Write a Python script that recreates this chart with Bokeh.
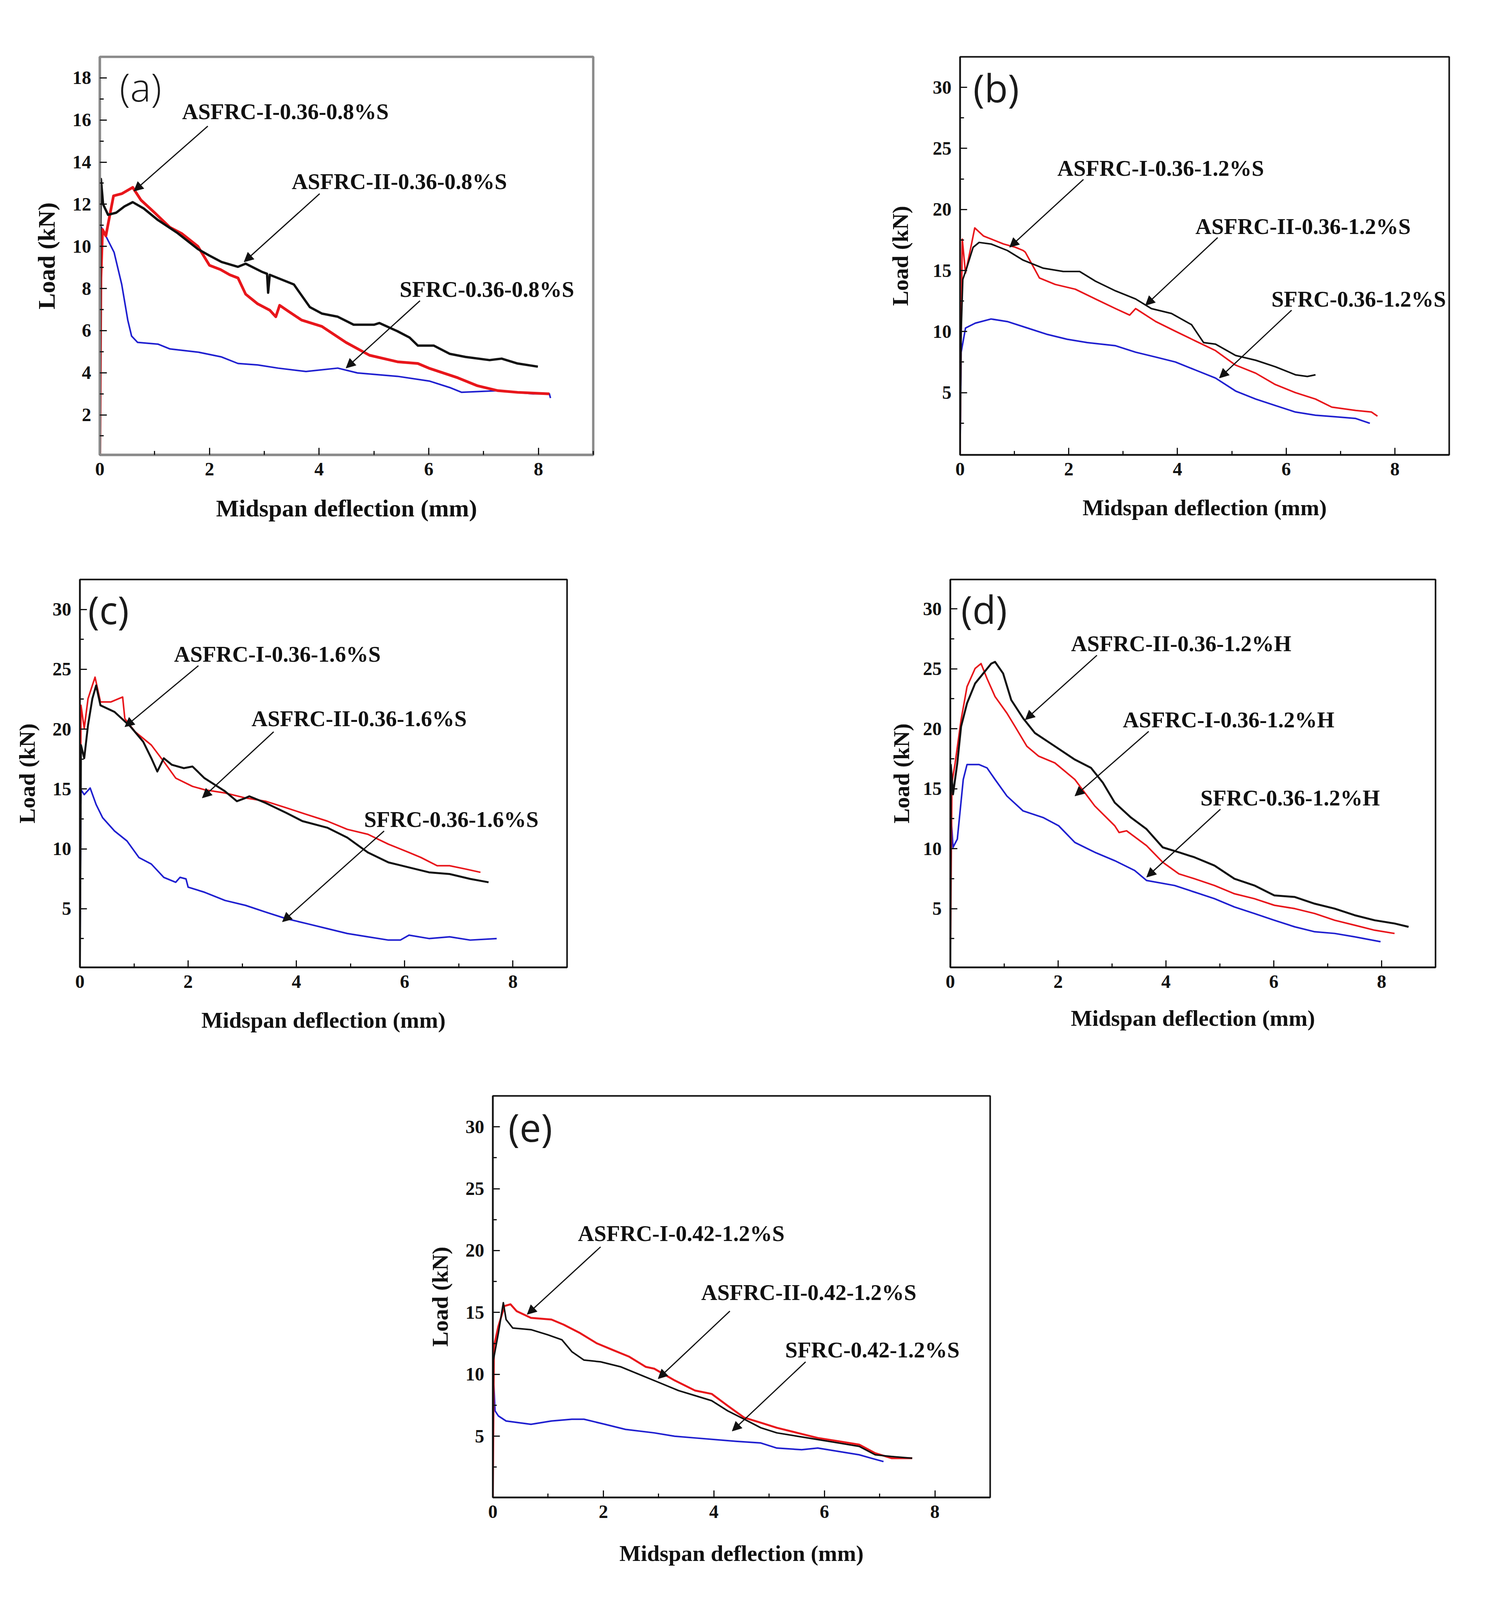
from bokeh.plotting import figure
from bokeh.layouts import column, row
from bokeh.models import FixedTicker, Arrow, NormalHead, Range1d, Label
from bokeh.embed import file_html
from bokeh.resources import INLINE

# ---------------- data (Midspan deflection mm, Load kN) ----------------
# (a) 0.36 - 0.8%S
A_I_X = [0, 0.02, 0.05, 0.11, 0.25, 0.4, 0.6, 0.75, 1.0, 1.28, 1.5, 1.79, 2.0, 2.2, 2.37, 2.52, 2.66, 2.88, 3.1, 3.21, 3.28, 3.45, 3.68, 4.05, 4.49, 4.92, 5.43, 5.8, 6.02, 6.53, 6.89, 7.26, 7.62, 8.2]
A_I_Y = [0, 8.5, 10.8, 10.5, 12.4, 12.5, 12.8, 12.2, 11.6, 10.9, 10.6, 10.0, 9.1, 8.9, 8.65, 8.5, 7.73, 7.27, 6.97, 6.66, 7.2, 6.9, 6.5, 6.2, 5.44, 4.83, 4.52, 4.44, 4.2, 3.76, 3.38, 3.15, 3.07, 3.0]
A_II_X = [0, 0.01, 0.02, 0.06, 0.15, 0.3, 0.45, 0.6, 0.8, 1.06, 1.42, 1.79, 2.0, 2.22, 2.52, 2.66, 2.95, 3.05, 3.07, 3.1, 3.54, 3.83, 4.05, 4.34, 4.63, 5.0, 5.1, 5.43, 5.65, 5.8, 6.09, 6.38, 6.67, 7.11, 7.33, 7.62, 7.99]
A_II_Y = [0, 10.5, 13.2, 12.0, 11.5, 11.6, 11.9, 12.1, 11.8, 11.25, 10.63, 9.87, 9.56, 9.26, 9.03, 9.18, 8.8, 8.7, 7.8, 8.65, 8.19, 7.12, 6.81, 6.66, 6.28, 6.28, 6.36, 5.97, 5.67, 5.29, 5.29, 4.9, 4.75, 4.6, 4.67, 4.44, 4.29]
A_S_X = [0, 0.01, 0.03, 0.26, 0.4, 0.51, 0.58, 0.69, 1.06, 1.28, 1.79, 2.22, 2.52, 2.88, 3.25, 3.76, 4.34, 4.7, 5.43, 6.02, 6.38, 6.6, 7.26, 7.9, 8.2, 8.22]
A_S_Y = [0, 8.0, 10.9, 9.72, 8.19, 6.5, 5.74, 5.44, 5.36, 5.13, 4.98, 4.75, 4.44, 4.37, 4.22, 4.06, 4.22, 3.99, 3.83, 3.6, 3.3, 3.07, 3.15, 3.0, 3.0, 2.8]

# (b) 0.36 - 1.2%S
B_I_X = [0, 0.02, 0.04, 0.1, 0.18, 0.27, 0.43, 0.8, 1.02, 1.16, 1.2, 1.38, 1.46, 1.75, 2.12, 2.49, 2.86, 3.12, 3.23, 3.6, 3.96, 4.33, 4.7, 5.07, 5.44, 5.8, 6.17, 6.54, 6.84, 7.28, 7.57, 7.68]
B_I_Y = [0, 10, 17.57, 14.79, 16.5, 18.49, 17.83, 17.17, 16.9, 16.64, 16.5, 15.05, 14.39, 13.86, 13.47, 12.67, 11.88, 11.35, 11.88, 10.82, 10.03, 9.23, 8.44, 7.25, 6.59, 5.66, 5.0, 4.47, 3.81, 3.54, 3.41, 3.07]
B_II_X = [0, 0.02, 0.05, 0.13, 0.24, 0.35, 0.57, 0.87, 1.16, 1.53, 1.9, 2.2, 2.49, 2.86, 3.23, 3.52, 3.89, 4.26, 4.48, 4.7, 5.07, 5.44, 5.8, 6.17, 6.39, 6.54]
B_II_Y = [0, 10, 14.26, 15.32, 16.9, 17.3, 17.17, 16.64, 15.85, 15.19, 14.92, 14.92, 14.13, 13.33, 12.67, 11.88, 11.48, 10.56, 9.1, 8.97, 8.04, 7.65, 7.12, 6.46, 6.32, 6.46]
B_S_X = [0, 0.02, 0.1, 0.28, 0.57, 0.87, 1.24, 1.61, 1.97, 2.34, 2.86, 3.23, 3.6, 3.96, 4.33, 4.7, 5.07, 5.44, 5.8, 6.17, 6.54, 6.91, 7.28, 7.54]
B_S_Y = [0, 8.31, 10.29, 10.69, 11.03, 10.82, 10.29, 9.76, 9.37, 9.1, 8.84, 8.31, 7.91, 7.51, 6.85, 6.19, 5.13, 4.47, 3.94, 3.41, 3.15, 3.02, 2.88, 2.49]

# (c) 0.36 - 1.6%S
C_I_X = [0, 0.02, 0.08, 0.15, 0.23, 0.28, 0.38, 0.57, 0.79, 0.83, 1.02, 1.32, 1.55, 1.77, 2.08, 2.3, 2.68, 3.06, 3.43, 3.81, 4.19, 4.57, 4.94, 5.32, 5.7, 6.08, 6.3, 6.6, 6.83, 7.13, 7.4]
C_I_Y = [0, 21.99, 20.06, 22.54, 23.65, 24.34, 22.27, 22.27, 22.68, 20.88, 19.78, 18.67, 17.29, 15.91, 15.22, 14.94, 14.67, 14.25, 13.98, 13.43, 12.87, 12.32, 11.63, 11.22, 10.39, 9.7, 9.28, 8.59, 8.59, 8.31, 8.04]
C_II_X = [0, 0.02, 0.08, 0.15, 0.23, 0.3, 0.38, 0.64, 0.94, 1.17, 1.32, 1.43, 1.55, 1.7, 1.92, 2.08, 2.3, 2.68, 2.9, 3.06, 3.13, 3.43, 3.81, 4.11, 4.57, 4.94, 5.32, 5.7, 6.08, 6.45, 6.83, 7.21, 7.55]
C_II_Y = [0, 18.67, 17.57, 20.33, 22.54, 23.65, 21.99, 21.44, 20.19, 18.95, 17.57, 16.46, 17.57, 17.02, 16.74, 16.88, 15.91, 14.81, 13.98, 14.25, 14.39, 13.84, 13.01, 12.32, 11.77, 10.94, 9.7, 8.87, 8.45, 8.04, 7.9, 7.49, 7.21]
C_S_X = [0, 0.02, 0.08, 0.19, 0.3, 0.42, 0.64, 0.87, 1.09, 1.32, 1.55, 1.77, 1.85, 1.96, 2.0, 2.3, 2.68, 3.06, 3.43, 3.81, 4.19, 4.57, 4.94, 5.32, 5.7, 5.92, 6.08, 6.45, 6.83, 7.21, 7.7]
C_S_Y = [0, 14.94, 14.53, 15.08, 13.7, 12.6, 11.49, 10.66, 9.28, 8.73, 7.62, 7.21, 7.62, 7.49, 6.8, 6.38, 5.69, 5.28, 4.72, 4.17, 3.76, 3.34, 2.93, 2.65, 2.38, 2.38, 2.79, 2.51, 2.65, 2.38, 2.51]

# (d) 0.36 - 1.2%H
D_II_X = [0, 0.01, 0.05, 0.13, 0.2, 0.31, 0.46, 0.61, 0.76, 0.83, 0.98, 1.13, 1.35, 1.57, 1.94, 2.31, 2.61, 2.83, 3.05, 3.35, 3.64, 3.94, 4.24, 4.53, 4.9, 5.27, 5.64, 6.01, 6.39, 6.76, 7.13, 7.5, 7.87, 8.24, 8.5]
D_II_Y = [0, 17.0, 14.53, 17.15, 20.19, 22.13, 23.78, 24.61, 25.44, 25.58, 24.61, 22.4, 20.88, 19.64, 18.54, 17.43, 16.74, 15.5, 13.84, 12.6, 11.63, 10.11, 9.7, 9.28, 8.59, 7.49, 6.93, 6.1, 5.97, 5.41, 5.0, 4.45, 4.03, 3.76, 3.48]
D_I_X = [0, 0.03, 0.09, 0.2, 0.31, 0.46, 0.57, 0.68, 0.83, 1.05, 1.2, 1.42, 1.64, 1.94, 2.31, 2.68, 3.05, 3.13, 3.27, 3.64, 3.94, 4.24, 4.53, 4.9, 5.27, 5.64, 6.01, 6.39, 6.76, 7.13, 7.5, 7.87, 8.24]
D_I_Y = [0, 15.5, 17.15, 20.75, 23.51, 25.03, 25.44, 24.2, 22.68, 21.3, 20.19, 18.54, 17.71, 17.15, 15.77, 13.56, 11.91, 11.35, 11.49, 10.25, 8.87, 7.9, 7.49, 6.93, 6.24, 5.83, 5.28, 5.0, 4.59, 4.03, 3.62, 3.2, 2.93]
D_S_X = [0, 0.01, 0.05, 0.13, 0.24, 0.31, 0.53, 0.68, 0.83, 1.05, 1.35, 1.72, 2.01, 2.31, 2.68, 3.05, 3.42, 3.64, 4.16, 4.53, 4.9, 5.27, 5.64, 6.01, 6.39, 6.76, 7.13, 7.5, 7.98]
D_S_Y = [0, 13.0, 10.11, 10.8, 15.77, 17.02, 17.02, 16.74, 15.77, 14.39, 13.15, 12.6, 11.91, 10.52, 9.7, 9.0, 8.18, 7.35, 6.93, 6.38, 5.83, 5.14, 4.59, 4.03, 3.48, 3.07, 2.93, 2.65, 2.24]

# (e) 0.42 - 1.2%S
E_I_X = [0, 0.02, 0.1, 0.21, 0.32, 0.43, 0.69, 1.06, 1.28, 1.58, 1.88, 2.17, 2.47, 2.77, 2.92, 3.29, 3.66, 3.96, 4.25, 4.55, 4.85, 5.14, 5.51, 5.88, 6.26, 6.63, 6.92, 7.22, 7.59]
E_I_Y = [0, 12.24, 13.88, 15.52, 15.66, 15.11, 14.56, 14.43, 14.02, 13.33, 12.51, 11.97, 11.42, 10.6, 10.46, 9.51, 8.69, 8.42, 7.46, 6.5, 6.09, 5.68, 5.27, 4.86, 4.59, 4.32, 3.63, 3.22, 3.22]
E_II_X = [0, 0.01, 0.1, 0.19, 0.24, 0.36, 0.69, 0.99, 1.25, 1.43, 1.65, 1.95, 2.32, 2.69, 2.99, 3.36, 3.66, 3.96, 4.25, 4.55, 4.85, 5.14, 5.51, 5.88, 6.26, 6.63, 6.92, 7.22, 7.59]
E_II_Y = [0, 11.15, 13.33, 15.79, 14.43, 13.74, 13.61, 13.2, 12.79, 11.83, 11.15, 11.01, 10.6, 9.92, 9.37, 8.69, 8.28, 7.87, 7.05, 6.37, 5.68, 5.27, 5.0, 4.73, 4.45, 4.18, 3.5, 3.36, 3.22]
E_S_X = [0, 0.01, 0.04, 0.1, 0.24, 0.69, 1.06, 1.43, 1.65, 2.03, 2.4, 2.92, 3.29, 3.66, 4.4, 4.85, 5.14, 5.59, 5.88, 6.26, 6.63, 6.85, 7.07]
E_S_Y = [0, 9.92, 7.05, 6.64, 6.23, 5.96, 6.23, 6.37, 6.37, 5.96, 5.55, 5.27, 5.0, 4.86, 4.59, 4.45, 4.04, 3.91, 4.04, 3.77, 3.5, 3.22, 2.95]

X_TICKS = [0, 2, 4, 6, 8]
X_MINOR = [1, 3, 5, 7, 9]
Y_TICKS_A = [2, 4, 6, 8, 10, 12, 14, 16, 18]
Y_MINOR_A = [1, 3, 5, 7, 9, 11, 13, 15, 17]
Y_TICKS = [5, 10, 15, 20, 25, 30]
Y_MINOR = [2.5, 7.5, 12.5, 17.5, 22.5, 27.5, 32.5]

X_LABEL = "Midspan deflection (mm)"
Y_LABEL = "Load (kN)"

RED = "#e8161b"
BLACK = "#111111"
BLUE = "#1f1fd0"

# annotations: (text, x_left, y_mid, arrow_x0, arrow_y0, arrow_x1, arrow_y1)
ANN_A = [("ASFRC-I-0.36-0.8%S", 1.50, 16.41, 1.97, 15.71, 0.62, 12.62),
         ("ASFRC-II-0.36-0.8%S", 3.50, 13.08, 4.01, 12.5, 2.63, 9.26),
         ("SFRC-0.36-0.8%S", 5.47, 7.96, 5.84, 7.42, 4.49, 4.22)]
ANN_B = [("ASFRC-I-0.36-1.2%S", 1.79, 23.39, 2.27, 22.46, 0.91, 16.9),
         ("ASFRC-II-0.36-1.2%S", 4.33, 18.62, 4.74, 17.7, 3.41, 12.14),
         ("SFRC-0.36-1.2%S", 5.73, 12.67, 6.1, 11.75, 4.77, 6.19)]
ANN_C = [("ASFRC-I-0.36-1.6%S", 1.74, 26.27, 2.19, 25.3, 0.83, 20.19),
         ("ASFRC-II-0.36-1.6%S", 3.17, 20.88, 3.58, 19.78, 2.26, 14.25),
         ("SFRC-0.36-1.6%S", 5.25, 12.46, 5.62, 11.49, 3.74, 3.9)]
ANN_D = [("ASFRC-II-0.36-1.2%H", 2.24, 27.1, 2.72, 26.13, 1.39, 20.75),
         ("ASFRC-I-0.36-1.2%H", 3.2, 20.75, 3.68, 19.78, 2.31, 14.39),
         ("SFRC-0.36-1.2%H", 4.64, 14.25, 5.01, 13.29, 3.64, 7.62)]
ANN_E = [("ASFRC-I-0.42-1.2%S", 1.54, 21.39, 1.95, 20.3, 0.62, 14.84),
         ("ASFRC-II-0.42-1.2%S", 3.77, 16.61, 4.29, 15.11, 2.99, 9.64),
         ("SFRC-0.42-1.2%S", 5.29, 11.97, 5.66, 11.01, 4.33, 5.41)]

SERIF = "Liberation Serif"


def panel(width, height, bl, br, bt, bb, yr, yt, ym, tag, tag_xy, tag_size,
          series, anns, outline="#111111", outline_w=4, axis_fs="58px",
          x_stand=47, y_stand=30):
    p = figure(width=width, height=height, x_range=Range1d(0, 9), y_range=Range1d(*yr),
               output_backend="svg", toolbar_location=None,
               min_border_left=bl, min_border_right=br, min_border_top=bt, min_border_bottom=bb)
    p.background_fill_color = "white"
    p.border_fill_color = "white"
    p.grid.visible = False
    p.outline_line_color = outline
    p.outline_line_width = outline_w
    p.outline_line_alpha = 1
    p.xaxis.ticker = FixedTicker(ticks=X_TICKS, minor_ticks=X_MINOR)
    p.yaxis.ticker = FixedTicker(ticks=yt, minor_ticks=ym)
    for ax in (p.xaxis[0], p.yaxis[0]):
        ax.axis_line_color = outline
        ax.axis_line_width = outline_w
        ax.major_tick_in = 18
        ax.major_tick_out = 0
        ax.minor_tick_in = 10
        ax.minor_tick_out = 0
        ax.major_tick_line_width = 3
        ax.minor_tick_line_width = 3
        ax.major_tick_line_color = "#111111"
        ax.minor_tick_line_color = "#111111"
        ax.major_label_text_font = SERIF
        ax.major_label_text_font_style = "bold"
        ax.major_label_text_font_size = "48px"
        ax.major_label_text_color = "#111111"
        ax.axis_label_text_font = SERIF
        ax.axis_label_text_font_style = "bold"
        ax.axis_label_text_font_size = axis_fs
        ax.axis_label_text_color = "#111111"
    p.xaxis.axis_label = X_LABEL
    p.yaxis.axis_label = Y_LABEL
    p.xaxis.major_label_standoff = 20
    p.xaxis.axis_label_standoff = x_stand
    p.yaxis.major_label_standoff = 22
    p.yaxis.axis_label_standoff = y_stand

    for xs, ys, col, w in series:
        p.line(xs, ys, line_color=col, line_width=w, line_join="round")

    p.add_layout(Label(x=tag_xy[0], y=tag_xy[1], text=tag, text_font="Open Sans",
                       text_font_size=tag_size, text_baseline="middle", text_align="left",
                       text_color="#1a1a1a"))
    for txt, tx, ty, x0, y0, x1, y1 in anns:
        p.add_layout(Arrow(end=NormalHead(size=24, fill_color="#111111", line_color="#111111"),
                           x_start=x0, y_start=y0, x_end=x1, y_end=y1,
                           line_color="#111111", line_width=3))
        p.add_layout(Label(x=tx, y=ty, text=txt, text_font=SERIF, text_font_style="bold",
                           text_font_size="57px", text_baseline="middle", text_align="left",
                           text_color="#111111"))
    return p


pa = panel(1892, 1380, 255, 374, 145, 216, (0.1, 19.0), Y_TICKS_A, Y_MINOR_A,
           "(a)", (0.36, 17.6), "100px",
           [(A_S_X, A_S_Y, BLUE, 4), (A_I_X, A_I_Y, RED, 7), (A_II_X, A_II_Y, BLACK, 6)],
           ANN_A, outline="#8a8a8a", outline_w=6, axis_fs="62px", x_stand=47, y_stand=30)
pb = panel(1952, 1380, 565, 135, 144, 214, (-0.1, 32.5), Y_TICKS, Y_MINOR,
           "(b)", (0.24, 30.0), "98px",
           [(B_S_X, B_S_Y, BLUE, 4), (B_I_X, B_I_Y, RED, 4), (B_II_X, B_II_Y, BLACK, 4)],
           ANN_B, x_stand=47, y_stand=48)
pc = panel(1892, 1320, 204, 441, 103, 199, (0.1, 32.5), Y_TICKS, Y_MINOR,
           "(c)", (0.15, 30.0), "98px",
           [(C_S_X, C_S_Y, BLUE, 4), (C_I_X, C_I_Y, RED, 4), (C_II_X, C_II_Y, BLACK, 5)],
           ANN_C, x_stand=47, y_stand=30)
pd = panel(1952, 1320, 540, 170, 90, 224, (0.1, 32.45), Y_TICKS, Y_MINOR,
           "(d)", (0.2, 30.0), "98px",
           [(D_S_X, D_S_Y, BLUE, 4), (D_I_X, D_I_Y, RED, 4), (D_II_X, D_II_Y, BLACK, 5)],
           ANN_D, x_stand=42, y_stand=20)
pe = panel(3844, 1392, 1261, 1310, 105, 259, (0.05, 32.5), Y_TICKS, Y_MINOR,
           "(e)", (0.28, 30.0), "98px",
           [(E_S_X, E_S_Y, BLUE, 4), (E_I_X, E_I_Y, RED, 5), (E_II_X, E_II_Y, BLACK, 4)],
           ANN_E, x_stand=55, y_stand=30)

layout = column(row(pa, pb), row(pc, pd), pe)
open("out.html", "w").write(file_html(layout, INLINE))
